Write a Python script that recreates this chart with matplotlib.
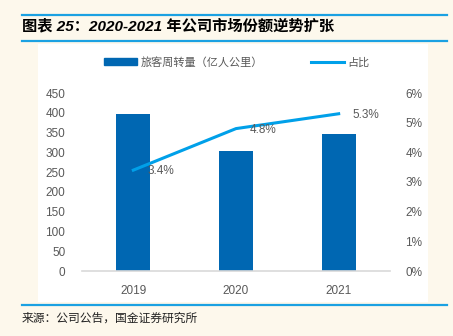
import matplotlib
matplotlib.use("Agg")
import matplotlib.pyplot as plt
from matplotlib.lines import Line2D
from matplotlib.patches import Rectangle

plt.rcParams['font.family'] = ['Liberation Sans', 'Noto Sans CJK SC', 'DejaVu Sans']

years = ['2019', '2020', '2021']
turnover = [398, 303, 346]          # 旅客周转量（亿人公里）
share = [3.4, 4.8, 5.3]             # 占比 (%)
share_labels = ['3.4%', '4.8%', '5.3%']
left_ticks = [0, 50, 100, 150, 200, 250, 300, 350, 400, 450]
right_ticks = [0, 1, 2, 3, 4, 5, 6]

W, H = 453, 336
BG = '#FDF8EC'
BAR = '#0067B2'
LINE = '#00A0E9'
TXT = '#595959'
RULE = '#1BA1E2'

fig = plt.figure(figsize=(W / 100, H / 100), dpi=100, facecolor=BG)

# white panel
fig.patches.append(Rectangle((38 / W, 1 - 302 / H), (428 - 38) / W, (302 - 44) / H,
                             transform=fig.transFigure, facecolor='white', edgecolor='none', zorder=-10))
# rules
for y in (15, 41, 305):
    fig.add_artist(Line2D([22 / W, 447 / W], [1 - y / H, 1 - y / H], color=RULE, lw=1.6,
                          transform=fig.transFigure))

fig.text(22 / W, 1 - 26 / H, '图表 25：2020-2021 年公司市场份额逆势扩张', fontsize=11,
         fontweight='bold', style='italic', family=['Liberation Sans', 'Noto Sans CJK SC'],
         va='center', ha='left', color='black')
fig.text(22 / W, 1 - 318 / H, '来源：公司公告，国金证券研究所', fontsize=8.5,
         family=['Noto Sans CJK SC'], va='center', ha='left', color='#222222')

ax = fig.add_axes([82 / W, 1 - 271 / H, (390 - 82) / W, (271 - 93) / H])
ax.set_facecolor('none')
ax.set_zorder(1)
x = list(range(len(years)))
ax.bar(x, turnover, width=0.33, color=BAR, zorder=2)
ax.set_xlim(-0.5, 2.5)
ax.set_ylim(0, 450)
ax.set_yticks(left_ticks)
ax.set_xticks(x)
ax.set_xticklabels(years)
ax.tick_params(axis='both', length=0, colors=TXT, labelsize=8.5)
ax.tick_params(axis='y', pad=12)
ax.tick_params(axis='x', pad=10)
for s in ('top', 'right', 'left'):
    ax.spines[s].set_visible(False)
ax.spines['bottom'].set_color('#D9D9D9')
ax.spines['bottom'].set_linewidth(1.2)

ax2 = ax.twinx()
ax2.set_zorder(2)
ax2.set_facecolor('none')
ax2.plot(x, share, color=LINE, lw=2.2, zorder=3)
ax2.set_ylim(0, 6)
ax2.set_yticks(right_ticks)
ax2.set_yticklabels([f'{t}%' for t in right_ticks])
ax2.tick_params(axis='y', length=0, colors=TXT, labelsize=8.5, pad=11)
for s in ax2.spines.values():
    s.set_visible(False)
for xi, v, lab in zip(x, share, share_labels):
    ax2.annotate(lab, (xi, v), xytext=(14, -1), textcoords='offset pixels',
                 ha='left', va='center', fontsize=8.5, color=TXT)

handles = [Rectangle((0, 0), 1, 1, color=BAR), Line2D([], [], color=LINE, lw=2.2)]
fig.legend(handles, ['旅客周转量（亿人公里）', '占比'], loc='center left',
           bbox_to_anchor=(104 / W, 1 - 62 / H), ncol=2, frameon=False,
           handlelength=3.0, handletextpad=0.3, columnspacing=4.3, borderpad=0,
           borderaxespad=0, labelcolor=TXT, prop={'family': ['Noto Sans CJK SC'], 'size': 8})

fig.savefig('out.png', dpi=100, facecolor=BG)
